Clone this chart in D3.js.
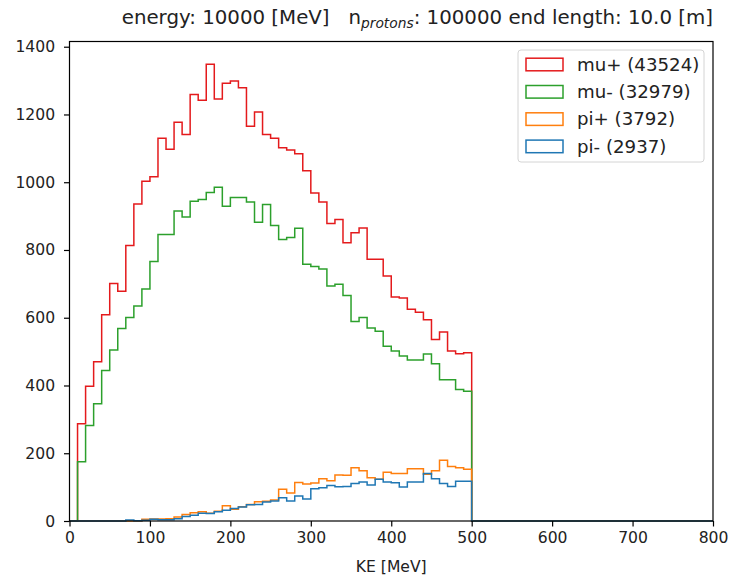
<!DOCTYPE html>
<html>
<head>
<meta charset="utf-8">
<script src="https://cdn.jsdelivr.net/npm/d3@7"></script>
<style>
  html, body { margin: 0; padding: 0; background: #fff; }
  svg { display: block; font-family: "DejaVu Sans", sans-serif; }
</style>
</head>
<body>
<svg id="chart" width="732" height="580"></svg>
<script>
// ---- data (10 MeV bins, 0 .. 800 MeV) ----
const binEdgesStart = 0;
const binWidth = 10;
const muPlus = [0,287,398,470,609,701,678,813,936,1003,1016,1130,1097,1177,1141,1259,1242,1348,1246,1292,
  1299,1279,1165,1207,1141,1130,1102,1095,1084,1034,968,942,878,890,821,851,865,773,773,723,
  661,658,625,616,594,536,558,502,494,497,
  0,0,0,0,0,0,0,0,0,0,0,0,0,0,0,0,0,0,0,0,0,0,0,0,0,0,0,0,0,0];
const muMinus = [0,175,282,346,444,505,568,601,635,685,766,846,846,915,897,944,949,970,985,929,
  955,955,942,882,934,872,831,837,864,758,751,744,694,699,666,589,601,570,560,516,
  502,487,475,475,493,464,417,417,388,383,
  0,0,0,0,0,0,0,0,0,0,0,0,0,0,0,0,0,0,0,0,0,0,0,0,0,0,0,0,0,0];
const piPlus = [0,0,0,0,0,0,0,0,0,5,6,6,7,12,19,24,27,23,29,45,
  35,42,49,57,58,62,94,83,114,109,112,125,119,136,135,157,148,128,123,144,
  140,140,154,154,138,148,179,161,157,153,
  0,0,0,0,0,0,0,0,0,0,0,0,0,0,0,0,0,0,0,0,0,0,0,0,0,0,0,0,0,0];
const piMinus = [0,0,0,0,0,0,0,3,1,2,5,4,4,7,13,17,23,22,27,32,
  37,41,48,49,56,59,69,59,74,65,95,98,105,101,102,111,115,106,123,115,
  113,100,115,115,140,125,111,102,117,117,
  0,0,0,0,0,0,0,0,0,0,0,0,0,0,0,0,0,0,0,0,0,0,0,0,0,0,0,0,0,0];
const seriesNames = ["mu+ (43524)", "mu- (32979)", "pi+ (3792)", "pi- (2937)"];
const seriesColors = ["#e41a1c", "#2ca02c", "#ff7f0e", "#1f77b4"];
const xTicks = [0,100,200,300,400,500,600,700,800];
const yTicks = [0,200,400,600,800,1000,1200,1400];
const xLabel = "KE [MeV]";

const allSeries = [muPlus, muMinus, piPlus, piMinus];

// ---- layout ----
const L = 69.5, R = 713, T = 41.5, B = 521;
const svg = d3.select("#chart");
const x = d3.scaleLinear().domain([0, 800]).range([L, R]);
const yMax = d3.max(allSeries, s => d3.max(s)) * 1.05;
const y = d3.scaleLinear().domain([0, yMax]).range([B, T]);

// ---- histograms (step outlines) ----
function stepPoints(counts) {
  const pts = [[binEdgesStart, 0]];
  counts.forEach((c, i) => {
    const e0 = binEdgesStart + i * binWidth;
    pts.push([e0, c], [e0 + binWidth, c]);
  });
  pts.push([binEdgesStart + counts.length * binWidth, 0]);
  return pts;
}
const line = d3.line().x(d => x(d[0])).y(d => y(d[1]));
svg.append("g").selectAll("path")
  .data(allSeries)
  .join("path")
  .attr("d", d => line(stepPoints(d)))
  .attr("fill", "none")
  .attr("stroke", (d, i) => seriesColors[i])
  .attr("stroke-width", 1.5)
  .attr("stroke-linejoin", "miter");

// ---- axes ----
const fmt = d3.format("d");
const xAxis = d3.axisBottom(x).tickValues(xTicks).tickFormat(fmt).tickSize(5.5).tickPadding(5).tickSizeOuter(0);
const yAxis = d3.axisLeft(y).tickValues(yTicks).tickFormat(fmt).tickSize(5.5).tickPadding(5).tickSizeOuter(0);
const gx = svg.append("g").attr("transform", `translate(0,${B})`).call(xAxis);
const gy = svg.append("g").attr("transform", `translate(${L},0)`).call(yAxis);
[gx, gy].forEach(g => {
  g.select(".domain").remove();
  g.selectAll(".tick line").attr("stroke", "#000").attr("stroke-width", 1.2);
  g.selectAll(".tick text").attr("fill", "#222").style("font-size", "15.6px")
    .style("font-family", "'DejaVu Sans', sans-serif");
});
gy.selectAll(".tick text").attr("dx", "-0.25em");

// spines
svg.append("rect").attr("x", L).attr("y", T).attr("width", R - L).attr("height", B - T)
  .attr("fill", "none").attr("stroke", "#000").attr("stroke-width", 1.2);

// x label
svg.append("text").attr("x", (L + R) / 2).attr("y", 572).attr("text-anchor", "middle")
  .style("font-size", "15.6px").attr("fill", "#222").text(xLabel);

// ---- title ----
const title = svg.append("text").attr("x", R).attr("y", 24).attr("text-anchor", "end")
  .style("font-size", "19.8px").attr("fill", "#222").attr("xml:space", "preserve");
title.append("tspan").text("energy: 10000 [MeV]   n");
title.append("tspan").attr("font-style", "italic").style("font-size", "13.8px").attr("dy", 3.8).text("protons");
title.append("tspan").attr("dy", -3.8).text(": 100000 end length: 10.0 [m]");

// ---- legend ----
const lg = svg.append("g");
lg.append("rect").attr("x", 518).attr("y", 50).attr("width", 186).attr("height", 112)
  .attr("rx", 3).attr("fill", "#fff").attr("fill-opacity", 0.8)
  .attr("stroke", "#d4d4d4").attr("stroke-width", 1);
const rowY = [64.5, 91.8, 119.1, 146.4];
seriesNames.forEach((name, i) => {
  lg.append("rect").attr("x", 526).attr("y", rowY[i] - 6.3).attr("width", 37).attr("height", 12.6)
    .attr("fill", "none").attr("stroke", seriesColors[i]).attr("stroke-width", 1.5);
  lg.append("text").attr("x", 577).attr("y", rowY[i] + 6.3)
    .style("font-size", "18.2px").attr("fill", "#222").text(name);
});
</script>
</body>
</html>
